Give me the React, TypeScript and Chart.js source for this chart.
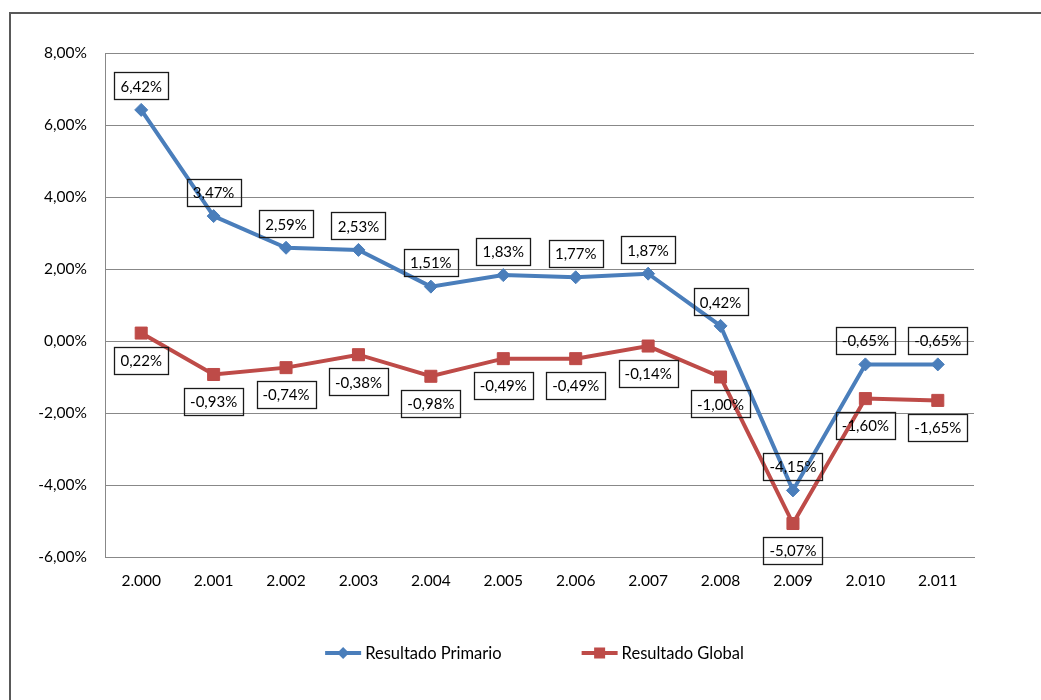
import { useEffect, useRef } from "react";
import { Chart, registerables } from "chart.js";

Chart.register(...registerables);

// Years (Spanish thousands-separator style) and yearly results, in % of GDP
const years = ["2.000", "2.001", "2.002", "2.003", "2.004", "2.005", "2.006", "2.007", "2.008", "2.009", "2.010", "2.011"];
const resultadoPrimario = [6.42, 3.47, 2.59, 2.53, 1.51, 1.83, 1.77, 1.87, 0.42, -4.15, -0.65, -0.65];
const resultadoGlobal = [0.22, -0.93, -0.74, -0.38, -0.98, -0.49, -0.49, -0.14, -1.0, -5.07, -1.6, -1.65];
const yMin = -6;
const yMax = 8;
const yStep = 2;

const FONT = "Lato";
const BLUE = "#4A7EBB";
const RED = "#BE4B48";

const fmtPct = (v: number) => v.toFixed(2).replace(".", ",") + "%";

// Boxed value labels: first series above its points, second series below
const valueLabels = {
  id: "valueLabels",
  afterDatasetsDraw(chart: any) {
    const ctx = chart.ctx as CanvasRenderingContext2D;
    ctx.save();
    ctx.font = `15px ${FONT}`;
    ctx.textAlign = "center";
    ctx.textBaseline = "middle";
    chart.data.datasets.forEach((ds: any, di: number) => {
      const meta = chart.getDatasetMeta(di);
      const dy = di === 0 ? -24 : 27;
      meta.data.forEach((pt: any, i: number) => {
        const text = fmtPct(ds.data[i]);
        const w = Math.round(ctx.measureText(text).width + 12);
        const h = 27;
        const cx = pt.x;
        const cy = pt.y + dy;
        ctx.strokeStyle = "#1a1a1a";
        ctx.lineWidth = 1.3;
        ctx.strokeRect(Math.round(cx - w / 2) + 0.5, Math.round(cy - h / 2) + 0.5, w, h);
        ctx.fillStyle = "#000";
        ctx.fillText(text, cx, cy + 1);
      });
    });
    ctx.restore();
  },
};

// Legend drawn as a short line with the series marker, like a line-chart key
const lineLegend = {
  id: "lineLegend",
  afterDraw(chart: any) {
    const ctx = chart.ctx as CanvasRenderingContext2D;
    const area = chart.chartArea;
    const lineLen = 36;
    const textGap = 4;
    const itemGap = 80;
    ctx.save();
    ctx.font = `16.5px ${FONT}`;
    const items = chart.data.datasets.map((ds: any) => ({
      label: ds.label as string,
      color: ds.borderColor as string,
      style: ds.pointStyle as string,
      width: lineLen + textGap + ctx.measureText(ds.label).width,
    }));
    const total = items.reduce((s: number, it: any) => s + it.width, 0) + itemGap * (items.length - 1);
    let x = (area.left + area.right) / 2 - 5 - total / 2;
    const y = area.bottom + 96;
    items.forEach((it: any) => {
      ctx.strokeStyle = it.color;
      ctx.lineWidth = 4;
      ctx.beginPath();
      ctx.moveTo(x, y);
      ctx.lineTo(x + lineLen, y);
      ctx.stroke();
      ctx.fillStyle = it.color;
      const mx = x + lineLen / 2;
      if (it.style === "rectRot") {
        ctx.beginPath();
        ctx.moveTo(mx, y - 6);
        ctx.lineTo(mx + 6, y);
        ctx.lineTo(mx, y + 6);
        ctx.lineTo(mx - 6, y);
        ctx.closePath();
        ctx.fill();
      } else {
        ctx.fillRect(mx - 5.5, y - 5.5, 11, 11);
      }
      ctx.fillStyle = "#000";
      ctx.textAlign = "left";
      ctx.textBaseline = "middle";
      ctx.fillText(it.label, x + lineLen + textGap, y + 1);
      x += it.width + itemGap;
    });
    ctx.restore();
  },
};

export default function App() {
  const canvasRef = useRef<HTMLCanvasElement | null>(null);

  useEffect(() => {
    if (!canvasRef.current) return;
    Chart.defaults.font.family = FONT;
    Chart.defaults.color = "#000";
    const chart = new Chart(canvasRef.current, {
      type: "line",
      data: {
        labels: years,
        datasets: [
          {
            label: "Resultado Primario",
            data: resultadoPrimario,
            borderColor: BLUE,
            backgroundColor: BLUE,
            borderWidth: 4,
            pointStyle: "rectRot",
            pointRadius: 6.5,
            pointBorderWidth: 1,
            tension: 0,
          },
          {
            label: "Resultado Global",
            data: resultadoGlobal,
            borderColor: RED,
            backgroundColor: RED,
            borderWidth: 4,
            pointStyle: "rect",
            pointRadius: 8.5,
            pointBorderWidth: 1,
            tension: 0,
          },
        ],
      },
      options: {
        responsive: false,
        animation: false,
        layout: { padding: { left: 20, top: 53, right: 67, bottom: 103 } },
        plugins: {
          legend: { display: false },
          tooltip: { enabled: false },
        },
        scales: {
          x: {
            offset: true,
            grid: { display: false, drawTicks: false },
            border: { display: true, color: "#888", width: 1 },
            ticks: { padding: 15, font: { size: 15.5 }, color: "#000" },
            afterFit: (s: any) => {
              s.height = 40;
            },
          },
          y: {
            min: yMin,
            max: yMax,
            grid: { color: "#888", lineWidth: 1, drawTicks: false },
            border: { display: true, color: "#888", width: 1 },
            ticks: {
              stepSize: yStep,
              padding: 18,
              font: { size: 15.5 },
              color: "#000",
              callback: (v: any) => fmtPct(Number(v)),
            },
            afterFit: (s: any) => {
              s.width = 85;
            },
          },
        },
      },
      plugins: [valueLabels, lineLegend],
    });
    return () => chart.destroy();
  }, []);

  return (
    <div style={{ position: "fixed", left: 0, top: 0, width: 1041, height: 700, overflow: "hidden", background: "#fff" }}>
      <div
        style={{
          position: "absolute",
          left: 9,
          top: 12,
          width: 1100,
          height: 800,
          borderTop: "2px solid #595959",
          borderLeft: "2px solid #595959",
        }}
      />
      <canvas ref={canvasRef} width={1041} height={700} style={{ position: "absolute", left: 0, top: 0 }} />
    </div>
  );
}
